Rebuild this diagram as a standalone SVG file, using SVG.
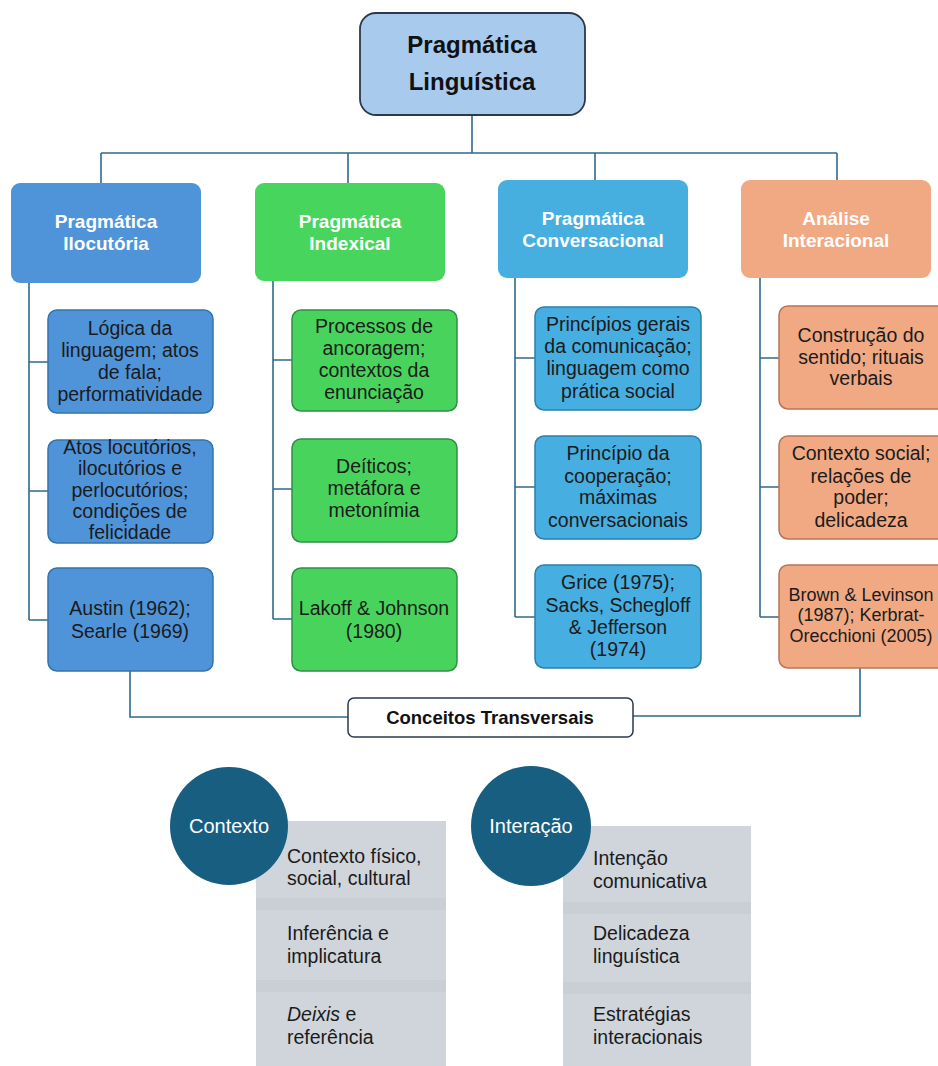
<svg xmlns="http://www.w3.org/2000/svg" width="938" height="1066" viewBox="0 0 938 1066">
<style>
.conn{fill:none;stroke:#2f6a8c;stroke-width:1.6}
.h1{font-family:"Liberation Sans",Arial,sans-serif;font-weight:bold;font-size:19px;fill:#ffffff;text-anchor:middle}
.t2{font-family:"Liberation Sans",Arial,sans-serif;font-size:19.5px;fill:#1b1b1b;text-anchor:middle}
.t2s{font-size:18px}
.t3{font-family:"Liberation Sans",Arial,sans-serif;font-size:19.5px;fill:#1b1b1b}
.bl{fill:#4f94d9;stroke:#3573ad;stroke-width:1.5}
.gr{fill:#48d45c;stroke:#2f8e46;stroke-width:1.5}
.lb{fill:#46aee0;stroke:#2d7fa8;stroke-width:1.5}
.or{fill:#f1a983;stroke:#b8745a;stroke-width:1.5}
.bl1{fill:#4f94d9}
.gr1{fill:#48d55d}
.lb1{fill:#46afe0}
.or1{fill:#f1a983}
.panel{fill:#d0d5db}
.band{fill:#cacfd5}
.circ{fill:#175e80}
</style>
<rect width="938" height="1066" fill="#ffffff"/>
<g id="connectors">
<path class="conn" d="M472 115V153M101 153H837M101 153V184M348 153V184M595 153V181M837 153V181"/>
<path class="conn" d="M29 283V620M29 362H48M29 491H48M29 620H48"/>
<path class="conn" d="M273 281V619M273 360H292M273 489H292M273 619H292"/>
<path class="conn" d="M515 278V617M515 358H535M515 487H535M515 617H535"/>
<path class="conn" d="M760 278V617M760 358H779M760 487H779M760 617H779"/>
<path class="conn" d="M130 671V717H348M860 668V716H633"/>
</g>
<g id="root">
<rect x="360" y="13" width="225" height="102" rx="16" fill="#a8caec" stroke="#2b3a4a" stroke-width="1.8"/>
<text x="472" y="53" font-family="'Liberation Sans',Arial,sans-serif" font-weight="bold" font-size="24" fill="#111" text-anchor="middle">Pragmática</text>
<text x="472" y="90" font-family="'Liberation Sans',Arial,sans-serif" font-weight="bold" font-size="24" fill="#111" text-anchor="middle">Linguística</text>
</g>
<g id="n-ilocutoria">
<rect class="bl1" x="11" y="183" width="190" height="100" rx="9"/>
<text class="h1" x="106" y="228">Pragmática</text>
<text class="h1" x="106" y="250">Ilocutória</text>
</g>
<g id="n-indexical">
<rect class="gr1" x="255" y="183" width="190" height="98" rx="9"/>
<text class="h1" x="350" y="228">Pragmática</text>
<text class="h1" x="350" y="250">Indexical</text>
</g>
<g id="n-conversacional">
<rect class="lb1" x="498" y="180" width="190" height="98" rx="9"/>
<text class="h1" x="593" y="225">Pragmática</text>
<text class="h1" x="593" y="247">Conversacional</text>
</g>
<g id="n-interacional">
<rect class="or1" x="741" y="180" width="190" height="98" rx="9"/>
<text class="h1" x="836" y="225">Análise</text>
<text class="h1" x="836" y="247">Interacional</text>
</g>
<g id="c1a"><rect class="bl" x="48" y="310" width="165" height="103" rx="9"/>
<text class="t2" x="130"><tspan x="130" y="335">Lógica da</tspan><tspan x="130" y="357">linguagem; atos</tspan><tspan x="130" y="379">de fala;</tspan><tspan x="130" y="401">performatividade</tspan></text></g>
<g id="c1b"><rect class="bl" x="48" y="440" width="165" height="103" rx="9"/>
<text class="t2" x="130"><tspan x="130" y="454">Atos locutórios,</tspan><tspan x="130" y="475">ilocutórios e</tspan><tspan x="130" y="497">perlocutórios;</tspan><tspan x="130" y="518">condições de</tspan><tspan x="130" y="539">felicidade</tspan></text></g>
<g id="c1c"><rect class="bl" x="48" y="568" width="165" height="103" rx="9"/>
<text class="t2" x="130"><tspan x="130" y="615">Austin (1962);</tspan><tspan x="130" y="638">Searle (1969)</tspan></text></g>
<g id="c2a"><rect class="gr" x="292" y="310" width="165" height="101" rx="9"/>
<text class="t2" x="374"><tspan x="374" y="333">Processos de</tspan><tspan x="374" y="355">ancoragem;</tspan><tspan x="374" y="377">contextos da</tspan><tspan x="374" y="399">enunciação</tspan></text></g>
<g id="c2b"><rect class="gr" x="292" y="439" width="165" height="103" rx="9"/>
<text class="t2" x="374"><tspan x="374" y="473">Deíticos;</tspan><tspan x="374" y="495">metáfora e</tspan><tspan x="374" y="517">metonímia</tspan></text></g>
<g id="c2c"><rect class="gr" x="292" y="568" width="165" height="103" rx="9"/>
<text class="t2" x="374"><tspan x="374" y="615">Lakoff &amp; Johnson</tspan><tspan x="374" y="638">(1980)</tspan></text></g>
<g id="c3a"><rect class="lb" x="535" y="307" width="166" height="103" rx="9"/>
<text class="t2" x="618"><tspan x="618" y="331">Princípios gerais</tspan><tspan x="618" y="353">da comunicação;</tspan><tspan x="618" y="375">linguagem como</tspan><tspan x="618" y="398">prática social</tspan></text></g>
<g id="c3b"><rect class="lb" x="535" y="436" width="166" height="103" rx="9"/>
<text class="t2" x="618"><tspan x="618" y="460">Princípio da</tspan><tspan x="618" y="483">cooperação;</tspan><tspan x="618" y="504">máximas</tspan><tspan x="618" y="527">conversacionais</tspan></text></g>
<g id="c3c"><rect class="lb" x="535" y="565" width="166" height="103" rx="9"/>
<text class="t2" x="618"><tspan x="618" y="589">Grice (1975);</tspan><tspan x="618" y="612">Sacks, Schegloff</tspan><tspan x="618" y="634">&amp; Jefferson</tspan><tspan x="618" y="656">(1974)</tspan></text></g>
<g id="c4a"><rect class="or" x="779" y="306" width="168" height="103" rx="9"/>
<text class="t2" x="861"><tspan x="861" y="342">Construção do</tspan><tspan x="861" y="364">sentido; rituais</tspan><tspan x="861" y="385">verbais</tspan></text></g>
<g id="c4b"><rect class="or" x="779" y="436" width="168" height="103" rx="9"/>
<text class="t2" x="861"><tspan x="861" y="460">Contexto social;</tspan><tspan x="861" y="483">relações de</tspan><tspan x="861" y="504">poder;</tspan><tspan x="861" y="527">delicadeza</tspan></text></g>
<g id="c4c"><rect class="or" x="779" y="565" width="168" height="103" rx="9"/>
<text class="t2 t2s" x="861"><tspan x="861" y="601">Brown &amp; Levinson</tspan><tspan x="861" y="621">(1987); Kerbrat-</tspan><tspan x="861" y="642">Orecchioni (2005)</tspan></text></g>
<g id="conceitos">
<rect x="348" y="698" width="285" height="39" rx="6" fill="#ffffff" stroke="#2b3a4a" stroke-width="1.5"/>
<text x="490" y="724" font-family="'Liberation Sans',Arial,sans-serif" font-weight="bold" font-size="18.5" fill="#111" text-anchor="middle">Conceitos Transversais</text>
</g>
<g id="panel-contexto">
<rect class="panel" x="256" y="821" width="190" height="245"/>
<rect class="band" x="256" y="898" width="190" height="12"/>
<rect class="band" x="256" y="980" width="190" height="12"/>
<text class="t3" x="287" y="863">Contexto físico,</text>
<text class="t3" x="287" y="885">social, cultural</text>
<text class="t3" x="287" y="940">Inferência e</text>
<text class="t3" x="287" y="963">implicatura</text>
<text class="t3" x="287" y="1021"><tspan font-style="italic">Deixis</tspan> e</text>
<text class="t3" x="287" y="1044">referência</text>
</g>
<g id="contexto">
<circle class="circ" cx="229" cy="826" r="59"/>
<text x="229" y="833" font-family="'Liberation Sans',Arial,sans-serif" font-size="20" fill="#ffffff" text-anchor="middle">Contexto</text>
</g>
<g id="panel-interacao">
<rect class="panel" x="563" y="826" width="188" height="240"/>
<rect class="band" x="563" y="902" width="188" height="12"/>
<rect class="band" x="563" y="982" width="188" height="12"/>
<text class="t3" x="593" y="865">Intenção</text>
<text class="t3" x="593" y="888">comunicativa</text>
<text class="t3" x="593" y="940">Delicadeza</text>
<text class="t3" x="593" y="963">linguística</text>
<text class="t3" x="593" y="1021">Estratégias</text>
<text class="t3" x="593" y="1044">interacionais</text>
</g>
<g id="interacao">
<circle class="circ" cx="531" cy="826" r="60"/>
<text x="531" y="833" font-family="'Liberation Sans',Arial,sans-serif" font-size="20" fill="#ffffff" text-anchor="middle">Interação</text>
</g>
</svg>
